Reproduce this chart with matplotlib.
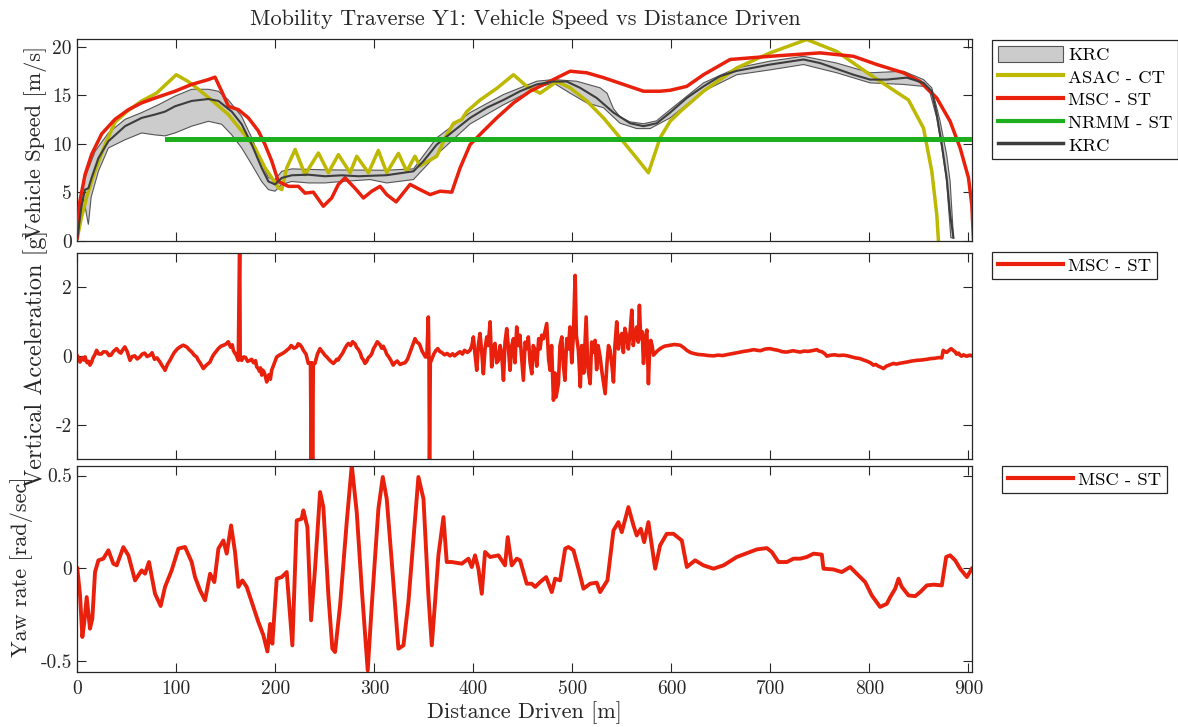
import warnings
import matplotlib
matplotlib.use("Agg")
import matplotlib.pyplot as plt
from matplotlib.patches import Patch
from matplotlib.lines import Line2D

warnings.filterwarnings("ignore", message="cmr10 font")
plt.rcParams["font.family"] = ["cmr10", "DejaVu Serif"]
plt.rcParams["axes.unicode_minus"] = False

# ---------------- speed traces ----------------
asac_x = [0, 4, 10, 18, 28, 38, 50, 65, 80, 100, 112, 122.3, 139, 152.6, 166, 179.5, 189.6, 196.4,
          203, 206.5, 211.5, 220, 230, 243.5, 253.6, 263.7, 275.5, 282.2, 294, 304, 312.5, 324.3,
          332.7, 341, 346, 363, 373, 380, 388.3, 393.3, 406.8, 423.7, 440.5, 454, 467.4, 484.3,
          497.7, 514.5, 531.4, 548.2, 565, 576.8, 588.6, 598.7, 608.8, 632.4, 666, 699.7, 736.7,
          767, 800.7, 839.4, 854.6, 863, 868, 869.7]
asac_v = [0.3, 2.3, 4.7, 7.2, 9.9, 12.2, 13.3, 14.4, 15.2, 17.1, 16.4, 15.6, 14.2, 13.0, 11.3, 9.56,
          7.5, 6.5, 5.45, 5.26, 7.5, 9.4, 6.8, 9.04, 7.0, 8.87, 7.0, 8.7, 7.0, 9.3, 7.0, 9.0,
          7.15, 8.7, 7.7, 8.7, 10.9, 12.1, 12.5, 13.3, 14.5, 15.7, 17.1, 15.9, 15.2, 16.4,
          15.75, 14.4, 12.65, 10.6, 8.5, 7.0, 10.6, 12.3, 13.3, 15.4, 17.8, 19.35, 20.73,
          19.5, 17.1, 14.5, 11.6, 7.15, 2.7, 0.0]

msc_x = [0, 2.5, 7.8, 14.5, 24.6, 38, 51.6, 65, 78.5, 98.7, 115.5, 132.4, 139.1, 145.8, 152.6,
         162.7, 172.8, 182.9, 189.6, 196.4, 203, 213.2, 223.3, 230, 238.4, 248.5, 256.9, 263.7,
         270.4, 280.5, 289, 297.4, 305.8, 312.5, 322, 336.1, 346.2, 356.3, 366.4, 378.2, 386.6,
         396.7, 410.2, 423.6, 440.5, 457.3, 474.1, 497.7, 514.5, 531.4, 551.6, 571.8, 588.6,
         598.7, 615.5, 632.4, 659.3, 699.7, 750.2, 783.9, 807.5, 834.4, 851.2, 868, 881.5,
         891.6, 900, 903.4, 905]
msc_v = [0.3, 4.0, 6.8, 8.9, 11.0, 12.5, 13.5, 14.2, 14.7, 15.4, 16.1, 16.6, 16.85, 15.4, 13.85,
         13.5, 12.65, 11.3, 9.9, 8.2, 6.1, 5.6, 5.6, 4.9, 5.0, 3.55, 4.4, 5.8,
         6.47, 5.4, 4.4, 5.1, 5.6, 4.75, 4.0, 5.8, 5.26, 4.75, 5.1, 5.0, 7.5,
         9.9, 11.3, 12.65, 14.2, 15.4, 16.26, 17.46, 17.3, 16.8, 16.1, 15.4, 15.4,
         15.5, 15.9, 17.1, 18.67, 19.0, 19.35, 19.0, 18.15, 17.3, 16.4, 14.7, 12.3,
         9.56, 6.5, 3.7, 0.3]

nrmm_x = [91, 904]
nrmm_v = [10.5, 10.5]

krc_x = [0, 4.4, 7.8, 11.2, 14.5, 21.3, 31.4, 48.2, 65, 78.5, 88.6, 98.7, 115.5, 132.4, 142.5,
         156, 166, 176.2, 186.2, 193, 199.7, 206.5, 216.6, 233.4, 250.2, 267, 284, 312.5, 339.5,
         349.6, 363, 380, 396.7, 413.5, 430.4, 447.2, 464, 480.9, 494.3, 507.8, 524.6, 541.5,
         558.3, 571.8, 585.2, 598.7, 615.5, 632.4, 649.2, 666, 699.7, 733.4, 750.2, 783.9,
         800.7, 817.5, 837.8, 854.6, 863, 868, 873.1, 878, 881.5, 884.9]
krc_v = [0.3, 3.7, 5.26, 5.4, 6.5, 8.5, 10.25, 11.8, 12.65, 13.0, 13.3, 13.85, 14.4, 14.6, 14.4,
         13.3, 12.0, 9.9, 7.5, 6.1, 5.8, 6.47, 6.74, 6.8, 6.64, 6.74, 6.64, 6.75, 7.15,
         8.2, 9.9, 11.3, 12.65, 13.7, 14.5, 15.4, 16.1, 16.4, 16.4, 15.75, 14.7, 13.2,
         12.1, 11.8, 12.1, 13.2, 14.7, 15.9, 16.95, 17.5, 18.15, 18.67, 18.3, 17.1,
         16.6, 16.6, 16.8, 16.26, 15.4, 13.0, 9.9, 6.47, 2.7, 0.3]

krc_hi_x = [0, 2.7, 7.8, 17.9, 31.4, 48.2, 65, 81.9, 98.7, 115.5, 132.4, 142.5, 152.6, 166, 176.2,
            186.2, 193, 199.7, 206.5, 216.6, 250, 310.8, 339.5, 363, 396.7, 430.4, 464, 480.9,
            504.4, 528, 535, 541.5, 548.2, 558, 571.8, 585, 598.7, 632.4, 666, 699.7, 733.4,
            767, 800.7, 834.4, 854.6, 863, 871.4, 878, 881.5, 884.9]
krc_hi_v = [0.3, 4.4, 6.5, 9.2, 11.1, 12.5, 13.2, 14.0, 14.9, 15.6, 15.6, 15.4, 14.5, 12.8, 10.6,
            8.0, 6.5, 6.3, 7.15, 7.4, 7.3, 7.26, 7.4, 10.6, 13.2, 15.06, 16.43, 16.6,
            16.43, 15.75, 15.2, 13.6, 12.75, 12.25, 12.05, 12.35, 13.5, 16.26, 17.8, 18.5, 19.0,
            18.3, 17.3, 17.46, 16.6, 15.75, 12.3, 8.87, 6.1, 0.3]

krc_lo_x = [0, 6, 11.2, 14, 21.3, 31.4, 48.2, 65, 78.5, 88.6, 98.7, 115.5, 132.4, 145.8, 156, 166,
            176.2, 186.2, 193, 199.7, 206.5, 216.6, 233.4, 250, 267, 295.7, 312.5, 339.5, 363,
            396.7, 430.4, 464, 480.9, 497.7, 514.5, 531.4, 548.2, 565, 578.5, 598.7, 632.4, 666,
            699.7, 733.4, 767, 800.7, 834.4, 854.6, 861.3, 868, 873.1, 878, 882.2]
krc_lo_v = [0.0, 4.5, 1.66, 4.5, 7.15, 9.56, 10.4, 11.1, 10.9, 10.8, 11.1, 11.8, 12.3, 12.0, 10.9, 9.56,
            7.85, 6.1, 5.26, 5.1, 5.8, 6.1, 5.95, 5.95, 6.1, 6.3, 5.95, 6.3, 8.87,
            12.03, 14.0, 15.75, 16.26, 15.2, 14.2, 13.7, 12.1, 11.55, 11.55, 12.65, 15.4, 17.1,
            17.6, 18.15, 17.3, 16.26, 16.1, 15.9, 15.2, 12.65, 9.56, 6.1, 0.3]

# ---------------- vertical acceleration (MSC - ST), (distance, g) samples ----------------
acc_0_100 = [
    (0, 0.0), (1.5, -0.08), (2.7, -0.18), (4, -0.1), (5, -0.05), (6.5, -0.12), (7.8, -0.03),
    (9, -0.14), (10, -0.2), (11.5, -0.16), (12.8, -0.27), (14.5, -0.18), (16, -0.05),
    (17.5, 0.02), (19.5, 0.16), (21.5, 0.06), (24, 0.05), (26.5, 0.12), (29.6, 0.11),
    (32, 0.01), (34, 0.02), (36.5, 0.13), (39.7, 0.21), (42, 0.12), (44, 0.08), (46, 0.18),
    (48, 0.26), (50.5, 0.12), (53.2, -0.13), (55.5, -0.02), (58, 0.0), (60.5, -0.09),
    (63.3, -0.03), (65.5, 0.05), (68, 0.08), (70.5, -0.02), (73.4, 0.02), (75.5, 0.09),
    (78, -0.1), (80.5, -0.06), (83.5, -0.18), (85, -0.25), (86, -0.3), (87.5, -0.36),
    (88.6, -0.42), (91, -0.25), (93.6, -0.13), (96, 0.0), (98, 0.1)]
acc_100_165 = [
    (101, 0.2), (103.7, 0.26), (107, 0.31), (110.5, 0.26), (113, 0.18), (116, 0.1), (118, 0.02),
    (120.5, -0.03), (122, -0.12), (124, -0.2), (126, -0.3), (127.3, -0.37), (130, -0.28),
    (134, -0.18), (136, -0.05), (138, 0.05), (140, 0.12), (142.4, 0.21), (145, 0.28),
    (147, 0.3), (150, 0.34), (152.5, 0.41), (154, 0.3), (155, 0.25), (156.5, 0.32),
    (157.6, 0.16), (159, 0.08), (160, 0.05), (161.5, -0.05), (162.6, -0.13), (164, 3.5),
    (164.5, -0.1)]
acc_165_239 = [
    (166, -0.13), (168, -0.03), (170, -0.05), (172, -0.16), (174.4, -0.13), (176, -0.1),
    (178, -0.2), (180, -0.14), (181.2, -0.32), (183, -0.38), (184, -0.45), (185, -0.35),
    (186.2, -0.56), (187.5, -0.42), (189, -0.5), (190, -0.6), (191.3, -0.76), (192.5, -0.62),
    (193.5, -0.55), (195, -0.68), (196.3, -0.42), (198.5, -0.25), (201.4, -0.03), (204, 0.02),
    (206, 0.05), (209, 0.1), (211.5, 0.16), (214, 0.22), (216, 0.3), (219, 0.22),
    (221.6, 0.26), (223, 0.35), (225, 0.32), (227, 0.24), (228.3, 0.16), (231, 0.05),
    (233.3, -0.22), (235.5, -0.2), (236.3, -3.5), (237, -0.2), (237.6, -3.5), (238.3, -0.25)]
acc_239_357 = [
    (240, -0.22), (242.5, 0.05), (245.1, 0.21), (246.5, 0.15), (248, 0.1), (250, 0.02),
    (251.9, -0.03), (254, -0.1), (256, -0.16), (258.6, -0.22), (260, -0.18), (262, -0.1),
    (263.5, -0.12), (265.3, -0.03), (268, 0.08), (270, 0.2), (272, 0.3), (273.8, 0.36),
    (276, 0.3), (278, 0.41), (280.5, 0.35), (282, 0.25), (284, 0.18), (286, 0.07),
    (287.2, -0.05), (289, -0.12), (290.5, -0.22), (292.3, -0.16), (294, -0.05), (296, 0.0),
    (297.5, 0.07), (299, 0.2), (301, 0.3), (303, 0.41), (305.8, 0.32), (307.5, 0.22),
    (309, 0.28), (311, 0.16), (312.5, 0.05), (315, -0.05), (317, -0.15), (319, -0.27),
    (320.9, -0.2), (323, -0.15), (326, -0.25), (328.5, -0.22), (331, -0.2), (333.5, -0.1),
    (336, 0.1), (338.5, 0.3), (341.1, 0.5), (343, 0.4), (345, 0.36), (346.2, 0.3),
    (348, 0.15), (350, 0.05), (351.5, -0.03), (353, -0.03), (354.5, 1.13), (355.2, -0.1),
    (355.7, -3.5), (356.5, -0.2)]
acc_357_400 = [
    (358, -0.1), (360, 0.05), (362, 0.15), (364, 0.21), (366.3, 0.12), (368, 0.1), (371, 0.03),
    (373.5, 0.07), (376.4, 0.0), (379, 0.06), (381, 0.0), (384, 0.07), (386.5, 0.12),
    (389, 0.05), (391, 0.16), (394, 0.1), (396.6, 0.16), (398.5, 0.3)]
acc_400_474 = [
    (400, 0.55), (401.5, 0.1), (403.4, -0.42), (405, 0.3), (406.7, 0.65), (408.5, 0.1),
    (410.1, -0.52), (411.8, 0.2), (413.5, 0.55), (415, 0.3), (416.9, 0.99), (418.5, -0.32),
    (420, 0.2), (421.9, 0.36), (423.5, -0.2), (425.3, -0.13), (427, 0.3), (428.5, 0.1),
    (430.4, -0.71), (432, 0.4), (433.7, 0.79), (435.5, 0.2), (437, -0.42), (438.8, 0.3),
    (440.5, 0.5), (442, -0.2), (443.8, 0.84), (445.5, 0.3), (447, 0.6), (448.9, -0.1),
    (450.5, -0.71), (452.3, 0.4), (454, 0.21), (455.5, 0.55), (457.3, -0.2), (459, -0.52),
    (460.5, 0.3), (462.4, 0.16), (464, -0.3), (466, 0.5), (467.4, 0.2), (469, 0.6),
    (470.8, 0.5)]
acc_474_582 = [
    (474.1, 0.94), (476, -0.1), (477.5, -0.42), (479, 0.3), (480.9, -1.29), (482.5, -0.5),
    (483.5, -1.2), (485.9, -0.81), (487.5, 0.3), (489.3, 0.55), (491, -0.3), (492.5, -0.71),
    (494.3, 0.5), (496, 0.2), (497.5, 0.84), (499.4, -0.2), (501, 0.6), (502.8, 2.34),
    (504, 0.6), (506.1, 0.16), (508, -0.9), (509.5, 0.3), (511.5, -0.5), (513.9, 1.13),
    (515.5, -0.3), (517.9, -0.81), (519.5, 0.4), (521, 0.1), (523, 0.45), (524.5, -0.4),
    (526, 0.3), (528, -0.03), (530, -0.5), (533.1, -1.1), (535, -0.2), (536.5, 0.3),
    (538.1, 0.16), (540, -0.3), (541.5, -0.76), (543, 0.3), (544.8, 0.99), (546.5, 0.2),
    (548, 0.5), (549.9, 0.65), (551.5, 0.1), (553, 0.8), (555, 0.55), (556.5, 0.2),
    (558, 0.6), (560, 1.33), (561.5, 0.3), (563, 0.6), (565, 0.84), (566.5, 0.4),
    (567.7, 1.47), (569, 0.5), (570.5, 0.7), (571.8, -0.22), (573.5, 0.5), (575.2, 0.75),
    (576.8, -0.81), (578, 0.2), (579.2, 0.45), (580.5, 0.3), (581.9, 0.02)]
acc_582_904 = [
    (585, 0.12), (588.6, 0.21), (593, 0.28), (598.7, 0.31), (603, 0.33), (608.8, 0.31),
    (612, 0.25), (615.6, 0.16), (619, 0.1), (622.3, 0.07), (627, 0.04), (632, 0.03),
    (637, 0.01), (642.5, 0.0), (647, 0.02), (652, 0.01), (657, 0.04), (662.7, 0.07),
    (668, 0.1), (673, 0.13), (678, 0.15), (683, 0.18), (687, 0.16), (690, 0.15), (695, 0.2),
    (699.7, 0.21), (704, 0.18), (708, 0.16), (712, 0.12), (716.6, 0.11), (720, 0.13),
    (723, 0.15), (726, 0.13), (730, 0.11), (734, 0.14), (738, 0.13), (742, 0.15),
    (746.9, 0.18), (749, 0.14), (752, 0.12), (755, 0.06), (757, -0.01), (761, 0.02),
    (765, 0.03), (769, 0.01), (773.8, 0.02), (778, 0.0), (782, -0.03), (786, -0.06),
    (790.6, -0.08), (794, -0.12), (797, -0.15), (801, -0.2), (804.1, -0.27), (806.5, -0.25),
    (809, -0.3), (811.5, -0.33), (814.2, -0.37), (817, -0.3), (819, -0.28), (821.5, -0.25),
    (824.3, -0.22), (827, -0.24), (830, -0.22), (834, -0.2), (837.8, -0.18), (843, -0.15),
    (848, -0.13), (853, -0.12), (858, -0.1), (862, -0.08), (866, -0.07), (870, -0.05),
    (873.1, -0.06), (874.5, 0.16), (876.5, 0.12), (878, 0.1), (880, 0.15), (882.5, 0.21),
    (884.9, 0.15), (886.5, 0.12), (888, 0.05), (890, 0.08), (891.6, 0.02), (893, -0.01),
    (895, 0.03), (897, 0.0), (898.4, -0.01), (901, 0.02), (904, 0.0)]

acc_samples = (acc_0_100 + acc_100_165 + acc_165_239 + acc_239_357 + acc_357_400
               + acc_400_474 + acc_474_582 + acc_582_904)
acc_x = [p[0] for p in acc_samples]
acc_g = [p[1] for p in acc_samples]

# ---------------- yaw rate (MSC - ST) ----------------
yaw_x = [0, 2.75, 5.1, 7.1, 9.5, 12.8, 15.2, 17.9, 21.3, 26.3, 31.4, 36.4, 39.8, 46.5, 51.6, 58.3,
         65, 68.4, 72.4, 78.5, 84.2, 88.6, 95.3, 102.1, 108.8, 115.5, 118.9, 124, 129, 134.1,
         138.4, 142.5, 147.5, 150.9, 155.3, 159.3, 162.7, 166.7, 171.1, 176.2, 182.9, 187.9, 192,
         194.7, 197, 201.4, 206.5, 211.5, 214.9, 217.2, 221.6, 226.6, 228.3, 232.4, 236.1, 240.1,
         245.2, 248.5, 253.6, 257.6, 260.3, 265.4, 272.1, 277.2, 282.2, 287.3, 293.3, 297.4,
         304.1, 308.5, 312.5, 317.6, 324.3, 329.4, 334.4, 339.5, 344.5, 349.6, 354.6, 358,
         361.3, 364.7, 369.8, 373.1, 378.2, 388.3, 395, 398.4, 401.7, 405.1, 408.5, 411.8, 416.9,
         425.3, 432, 434.7, 438.8, 443.8, 447.2, 453.9, 459, 462.4, 467.4, 473.5, 479.2, 482.6,
         487.6, 492.7, 496, 501.1, 506.1, 511.2, 517.9, 524.6, 528, 535.4, 541.5, 546.5, 549.9,
         556.6, 561.7, 565, 569.1, 572.5, 576.8, 583.6, 588.6, 595.3, 602.1, 610.5, 615.6, 623.9,
         632.4, 642.5, 652.6, 666, 679.5, 686.3, 696.4, 701.4, 708.1, 716.6, 723.3, 730, 736.8,
         743.5, 751.9, 753.6, 763.7, 772.1, 780.5, 787.3, 795.7, 802.4, 810.8, 817.6, 821, 826,
         829.4, 832.7, 839.5, 846.2, 851.3, 858, 864.8, 873.1, 877.5, 881.5, 886.6, 891.6, 898.4,
         903.4]
yaw_r = [0.0, -0.145, -0.37, -0.29, -0.155, -0.325, -0.27, -0.02, 0.043, 0.052, 0.097, 0.025, 0.016,
         0.114, 0.07, -0.065, -0.011, -0.029, 0.034, -0.137, -0.203, -0.1, -0.011, 0.106, 0.115,
         0.034, -0.047, -0.119, -0.172, -0.029, -0.074, 0.106, 0.15, 0.079, 0.231, 0.088, -0.1,
         -0.065, -0.1, -0.182, -0.29, -0.36, -0.448, -0.3, -0.406, -0.056, -0.047, -0.02, -0.253,
         -0.415, 0.258, 0.267, 0.312, 0.222, -0.28, -0.002, 0.411, 0.33, -0.146, -0.433, -0.451,
         -0.199, 0.249, 0.555, 0.303, -0.11, -0.55, -0.199, 0.321, 0.492, 0.375, 0.034, -0.433,
         -0.415, -0.182, 0.16, 0.492, 0.375, -0.146, -0.415, -0.182, 0.07, 0.276, 0.034, 0.034,
         0.025, 0.052, 0.007, 0.07, -0.002, -0.137, 0.088, 0.061, 0.07, 0.016, 0.168, 0.016,
         0.052, 0.043, -0.083, -0.083, -0.1, -0.074, -0.047, -0.128, -0.056, -0.065, 0.106, 0.115,
         0.097, -0.002, -0.11, -0.083, -0.077, -0.128, -0.065, 0.204, 0.249, 0.195, 0.33, 0.231,
         0.177, 0.213, 0.141, 0.249, -0.002, 0.124, 0.186, 0.186, 0.15, 0.007, 0.043, 0.016,
         -0.002, 0.016, 0.061, 0.088, 0.102, 0.109, 0.088, 0.034, 0.034, 0.052, 0.052, 0.061,
         0.079, 0.074, -0.002, -0.006, -0.02, 0.007, -0.029, -0.074, -0.146, -0.208, -0.191,
         -0.155, -0.11, -0.056, -0.1, -0.146, -0.15, -0.128, -0.092, -0.088, -0.092, 0.061, 0.07,
         0.043, -0.002, -0.047, -0.002]

x_ticks = [0, 100, 200, 300, 400, 500, 600, 700, 800, 900]

C_ASAC = "#BDB800"
C_MSC = "#E8200C"
C_NRMM = "#1DAF1D"
C_KRC = "#3D3D3D"
C_BAND = "#CCCCCC"
C_AX = "#262626"

W, H = 1178, 727
fig = plt.figure(figsize=(W / 100, H / 100), dpi=100)


def frac(left, top, right, bottom):
    return [left / W, 1 - bottom / H, (right - left) / W, (bottom - top) / H]


ax1 = fig.add_axes(frac(77.3, 39.3, 972.4, 240.7))
ax2 = fig.add_axes(frac(77.3, 252.7, 972.4, 459.0))
ax3 = fig.add_axes(frac(77.3, 465.7, 972.4, 671.7))

for ax in (ax1, ax2, ax3):
    ax.set_xlim(0, 904)
    ax.set_xticks(x_ticks)
    ax.tick_params(direction="in", top=True, right=True, length=6.5, width=0.8,
                   colors=C_AX, labelsize=14)
    ax.tick_params(axis="x", pad=6)
    ax.tick_params(axis="y", pad=4)
    for s in ax.spines.values():
        s.set_color(C_AX)
        s.set_linewidth(0.9)

# speed panel
band_x = krc_hi_x + krc_lo_x[::-1]
band_v = krc_hi_v + krc_lo_v[::-1]
ax1.fill(band_x, band_v, facecolor=C_BAND, edgecolor="#555555", linewidth=0.8, zorder=1)
ax1.plot(asac_x, asac_v, color=C_ASAC, lw=2.5, zorder=2)
ax1.plot(msc_x, msc_v, color=C_MSC, lw=2.5, zorder=3)
ax1.plot(krc_x, krc_v, color=C_KRC, lw=1.5, zorder=4)
ax1.plot(nrmm_x, nrmm_v, color=C_NRMM, lw=3.6, zorder=5)
ax1.set_ylim(0, 20.75)
ax1.set_yticks([0, 5, 10, 15, 20])
ax1.set_xticklabels([])

# acceleration panel
ax2.plot(acc_x, acc_g, color=C_MSC, lw=2.6)
ax2.set_ylim(-3, 3)
ax2.set_yticks([-2, 0, 2])
ax2.set_yticklabels(["-2", "0", "2"])
ax2.set_xticklabels([])

# yaw panel
ax3.plot(yaw_x, yaw_r, color=C_MSC, lw=2.8)
ax3.set_ylim(-0.557, 0.553)
ax3.set_yticks([-0.5, 0, 0.5])
ax3.set_yticklabels(["-0.5", "0", "0.5"])

lab_kw = dict(fontsize=16, color=C_AX)
ax1.set_ylabel("Vehicle Speed [m/s]", va="center", **lab_kw)
ax1.yaxis.set_label_coords(-0.047, 0.49)
ax2.set_ylabel("Vertical Acceleration [g]", va="center", fontsize=17.5, color=C_AX)
ax2.yaxis.set_label_coords(-0.047, 0.49)
ax3.set_ylabel("Yaw rate [rad/sec]", va="center", **lab_kw)
ax3.yaxis.set_label_coords(-0.062, 0.51)
ax3.set_xlabel("Distance Driven [m]", va="center", **lab_kw)
ax3.xaxis.set_label_coords(0.5, -0.2)

fig.text(525 / W, 1 - 19 / H, "Mobility Traverse Y1: Vehicle Speed vs Distance Driven",
         ha="center", va="center", fontsize=16, color=C_AX)

leg_kw = dict(fontsize=13.4, frameon=True, fancybox=False, framealpha=1, edgecolor=C_AX,
              borderaxespad=0, handlelength=3.5, handletextpad=0.3, labelspacing=0.28,
              borderpad=0.3)
top_handles = [
    Patch(facecolor=C_BAND, edgecolor="#555555", linewidth=0.8),
    Line2D([], [], color=C_ASAC, lw=3),
    Line2D([], [], color=C_MSC, lw=3),
    Line2D([], [], color=C_NRMM, lw=3),
    Line2D([], [], color=C_KRC, lw=2.5),
]
top_labels = ["KRC", "ASAC - CT", "MSC - ST", "NRMM - ST", "KRC"]
lg1 = fig.legend(top_handles, top_labels, loc="upper left", handleheight=0.95,
                 bbox_to_anchor=(992 / W, 1 - 40 / H), **leg_kw)
lg1.get_frame().set_linewidth(0.9)
lg2 = fig.legend([Line2D([], [], color=C_MSC, lw=3)], ["MSC - ST"], loc="upper left",
                 bbox_to_anchor=(992 / W, 1 - 252 / H), **leg_kw)
lg2.get_frame().set_linewidth(0.9)
lg3 = fig.legend([Line2D([], [], color=C_MSC, lw=3)], ["MSC - ST"], loc="upper left",
                 bbox_to_anchor=(1002 / W, 1 - 466 / H), **leg_kw)
lg3.get_frame().set_linewidth(0.9)

fig.savefig("out.png", dpi=100)
